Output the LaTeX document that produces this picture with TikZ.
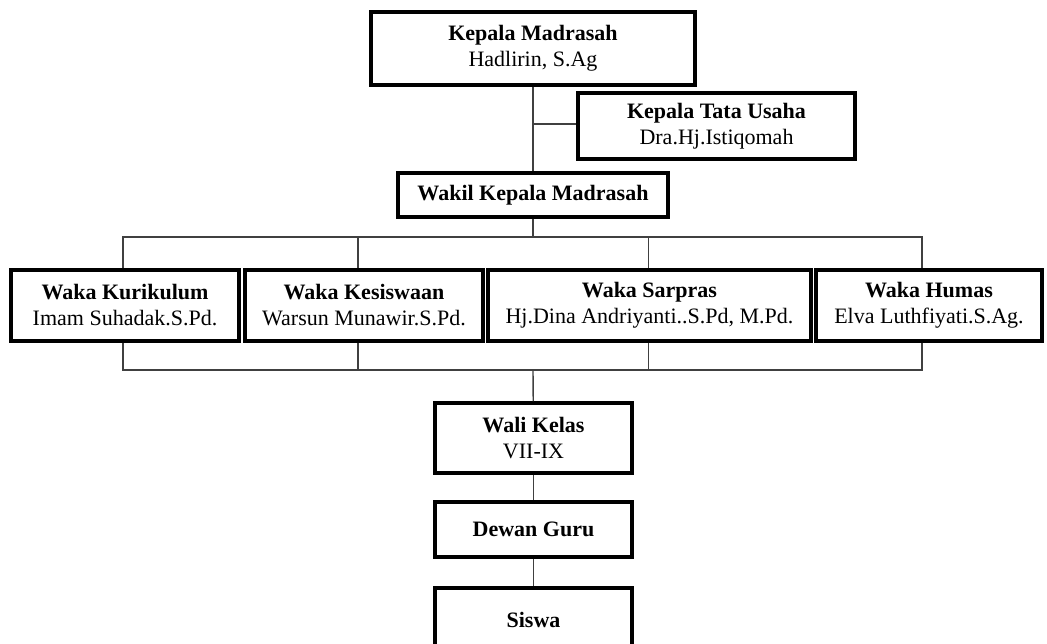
\documentclass[tikz,border=0pt]{standalone}
\usepackage{fontspec}
\setmainfont{Liberation Serif}

\begin{document}
\begin{tikzpicture}[x=1pt, y=-1pt,
  box/.style={draw, line width=3.5pt, inner sep=0pt, align=center, font=\fontsize{22}{26}\selectfont},
  link/.style={line width=1.4pt, color=black!75}]

\useasboundingbox (0,0) rectangle (1047,644);

\node[box, minimum width=324, minimum height=73] (kepala) at (533,48.5) {\textbf{Kepala Madrasah}\\Hadlirin, S.Ag};
\node[box, minimum width=277, minimum height=66] (tu) at (716.5,126) {\textbf{Kepala Tata Usaha}\\Dra.Hj.Istiqomah};
\node[box, minimum width=270, minimum height=44] (wakil) at (533,195) {\textbf{Wakil Kepala Madrasah}};

\node[box, minimum width=228, minimum height=71] (kurikulum) at (125,305.5) {\textbf{Waka Kurikulum}\\Imam Suhadak.S.Pd.};
\node[box, minimum width=238, minimum height=71] (kesiswaan) at (364,305.5) {\textbf{Waka Kesiswaan}\\Warsun Munawir.S.Pd.};
\node[box, minimum width=323, minimum height=71] (sarpras) at (649.5,305.5) {\textbf{Waka Sarpras}\\Hj.Dina Andriyanti..S.Pd, M.Pd.};
\node[box, minimum width=226, minimum height=71] (humas) at (929,305.5) {\textbf{Waka Humas}\\Elva Luthfiyati.S.Ag.};

\node[box, minimum width=197, minimum height=70] (wali) at (533.5,438) {\textbf{Wali Kelas}\\VII-IX};
\node[box, minimum width=197, minimum height=55] (dewan) at (533.5,529.5) {\textbf{Dewan Guru}};
\node[box, minimum width=197, minimum height=64] (siswa) at (533.5,620) {\textbf{Siswa}};

\coordinate (tj) at (533,124);
\coordinate (atas) at (533,237);
\coordinate (bawah) at (533,370);

\draw[link] (kepala) -- (wakil);
\draw[link] (tj) -- (tj -| tu.west);
\draw[link] (wakil) -- (atas);

\foreach \n/\s in {kurikulum/-2,kesiswaan/-6,sarpras/-1,humas/-7}{
	\draw[link] ([xshift=\s]\n.north) |- (atas);
	\draw[link] ([xshift=\s]\n.south) |- (bawah);
}

\draw[link] (bawah) -- (wali);
\draw[link] (wali) -- (dewan);
\draw[link] (dewan) -- (siswa);

\end{tikzpicture}
\end{document}
